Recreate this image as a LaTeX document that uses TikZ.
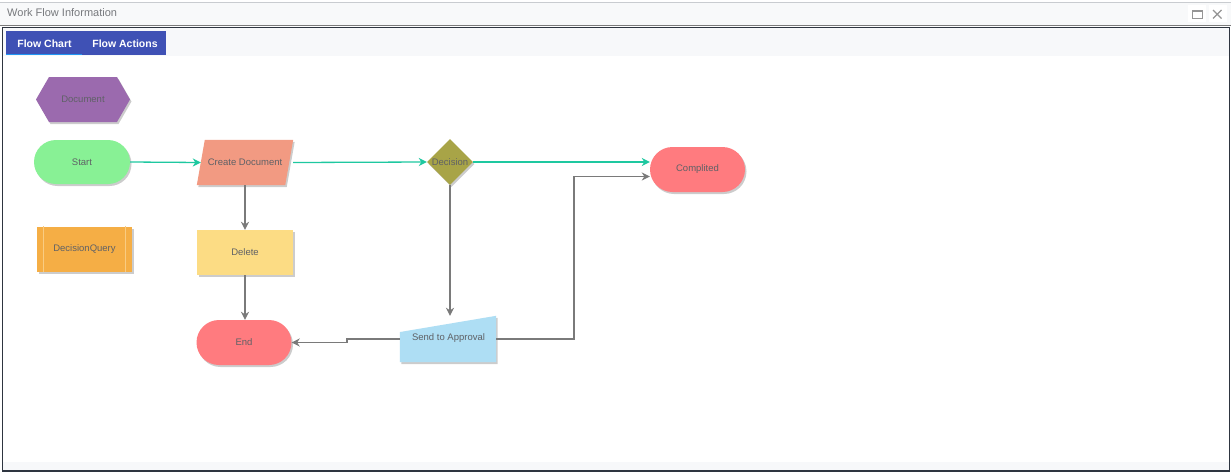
\documentclass[tikz,border=0pt]{standalone}
\usepackage{fontspec}
\setmainfont{Liberation Sans}
\usetikzlibrary{arrows.meta,calc,positioning,shapes.geometric,shapes.misc,shapes.symbols,shadows,backgrounds}
\definecolor{txtgray}{HTML}{5F6166}
\definecolor{chromebg}{HTML}{F8F9FA}
\definecolor{chromeline}{HTML}{C9CCD0}
\definecolor{panelline}{HTML}{2E3540}
\definecolor{panelbg}{HTML}{F7F8FA}
\definecolor{tabblue}{HTML}{3F51B5}
\definecolor{tabline}{HTML}{2196F3}
\definecolor{docpurple}{HTML}{9B6AAE}
\definecolor{startgreen}{HTML}{88F195}
\definecolor{createsalmon}{HTML}{F29A82}
\definecolor{decolive}{HTML}{A8A447}
\definecolor{endred}{HTML}{FF7B7F}
\definecolor{queryorange}{HTML}{F5AE45}
\definecolor{querylight}{HTML}{F9CC82}
\definecolor{delyellow}{HTML}{FCDC84}
\definecolor{sendblue}{HTML}{AEDEF4}
\definecolor{flowteal}{HTML}{1EC8A0}
\definecolor{flowgray}{HTML}{7A7A7A}
\tikzset{nodetext/.style={font=\fontsize{9.5}{11}\selectfont,text=txtgray},
nodeshadow/.style={drop shadow={shadow xshift=1.5pt,shadow yshift=-2pt,opacity=.2,fill=black}},
flownode/.style={nodetext,inner sep=0pt,minimum height=45pt,nodeshadow},
capsule/.style={flownode,rounded rectangle,minimum width=95pt},
boxnode/.style={flownode,rectangle,minimum width=96pt},
hexnode/.style={flownode,signal,signal to=west and east,signal pointer angle=120,minimum width=94pt},
decnode/.style={flownode,diamond,minimum width=46pt,minimum height=46pt},
flowgo/.style={draw=flowteal,line width=1.3pt,-{Stealth[length=8pt,width=8pt,inset=2.5pt]}},
flowback/.style={draw=flowgray,line width=1.6pt,-{Stealth[length=8pt,width=8pt,inset=2.5pt]}},
tabtext/.style={font=\fontsize{10.5}{12}\selectfont\bfseries,text=white,inner sep=0pt}}
\begin{document}
\begin{tikzpicture}[x=1pt,y=-1pt]
\useasboundingbox (0,0) rectangle (1231,472);
\begin{scope}[on background layer]
\fill[white] (0,0) rectangle (1231,472);
\fill[chromebg] (0,2) rectangle (1231,25.5);
\draw[chromeline] (0,2) -- (1231,2);
\draw[flowgray,line width=.8pt] (0,25.5) -- (1231,25.5);
\fill[panelbg] (3,28) rectangle (1229,56);
\fill[panelbg] (3,462) rectangle (1229,470.5);
\draw[panelline,line width=1.2pt] (2.6,27.6) rectangle (1229.4,471);
\fill[white] (1188,5) rectangle (1206,22);
\fill[white] (1209,5) rectangle (1227,22);
\fill[tabblue] (6,31) rectangle (166,55);
\fill[tabline] (6,53.5) rectangle (82,55);
\end{scope}
\node[anchor=west,inner sep=0pt,font=\fontsize{11}{13}\selectfont,text=txtgray!85] (title) at (7,12.5) {Work Flow Information};
\draw[flowgray!80,line width=.8pt] (1192.5,10.5) rectangle (1202.5,18.5);
\draw[flowgray!80,line width=2pt] (1192.5,11) -- (1202.5,11);
\draw[flowgray!80,line width=1.1pt] (1213,10) -- (1221.5,18.5) (1213,18.5) -- (1221.5,10);
\node[tabtext] (chart) at (44.5,44) {Flow Chart};
\node[tabtext] (actions) at (125,44) {Flow Actions};
\node[hexnode,fill=docpurple] (doc) at (83,99.5) {Document};
\node[capsule,fill=startgreen,minimum width=96pt,minimum height=44pt] (start) at (82,162) {Start};
\node[nodetext,inner sep=0pt,minimum width=96pt,minimum height=45pt] (create) at (245,162.5) {Create Document};
\node[decnode,fill=decolive,label={[nodetext]center:Decision}] (decision) at (450,162) {};
\node[capsule,fill=endred] (complited) at (697.5,169.5) {Complited};
\node[boxnode,fill=queryorange,minimum width=95pt] (query) at (84.5,249) {DecisionQuery};
\draw[querylight,line width=1pt] ([xshift=7pt]query.north west) -- ([xshift=7pt]query.south west)
([xshift=-7pt]query.north east) -- ([xshift=-7pt]query.south east);
\node[boxnode,fill=delyellow] (delete) at (245,252.5) {Delete};
\node[capsule,fill=endred] (end) at (244,342.5) {End};
\node[nodetext,inner sep=0pt,minimum width=96pt,minimum height=46pt] (send) at (448,339) {};
\node[nodetext,inner sep=0pt] (sendtext) at (448.5,338) {Send to Approval};
\begin{scope}[on background layer]
\fill[createsalmon,nodeshadow] (create.south west) -- ([xshift=-8pt]create.south east) -- (create.north east) -- ([xshift=8pt]create.north west) -- cycle;
\fill[sendblue,nodeshadow] (send.south west) -- (send.south east) -- (send.north east) -- ($(send.north west)!.35!(send.south west)$) -- cycle;
\end{scope}
\draw[flowgo] (start.east) -- ([xshift=4pt]create.west);
\draw[flowgo] (create.east) -- (decision.west);
\draw[flowgo] (decision.east) -- (decision.east -| complited.west);
\draw[flowback] (create.south) -- (delete.north);
\draw[flowback] (delete.south) -- (delete.south |- end.north);
\draw[flowback] (decision.south) -- (decision.south |- send.north);
\draw[flowback] (send.west) -- ++(-53,0) |- (end.east);
\draw[flowback] (send.east) -- ++(78,0) |- ([yshift=-7pt]complited.west);
\end{tikzpicture}
\end{document}
